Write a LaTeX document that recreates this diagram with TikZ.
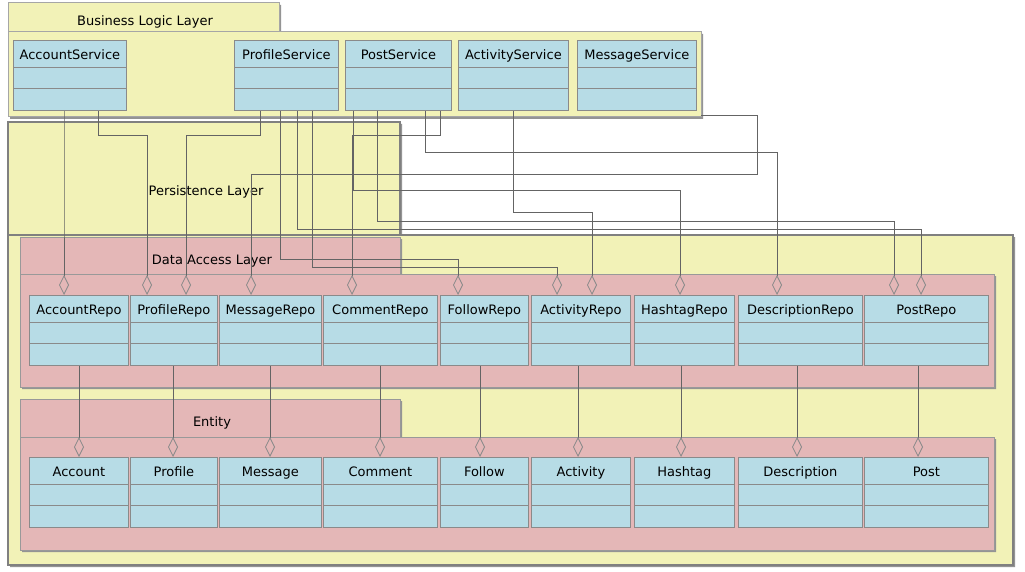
\documentclass[tikz,border=0pt]{standalone}
\usepackage{fontspec}
\setmainfont{DejaVu Sans}
\usepackage{tikz}
\usetikzlibrary{arrows.meta}

\definecolor{pkgyellow}{RGB}{242,242,183}
\definecolor{pkgpink}{RGB}{228,183,183}
\definecolor{classblue}{RGB}{183,220,230}
\definecolor{edgegray}{RGB}{138,138,138}
\definecolor{linegray}{RGB}{100,100,100}

% source, offset, height of the bend, target, offset
\newcommand\assoc[5]{%
  \coordinate (bend) at (0,#3);
  \draw[aggr] ([xshift=#2pt]#1.south west) coordinate (start) -- (start |- bend) -| ([xshift=#5pt]#4.north west);}

\begin{document}
\begin{tikzpicture}[x=1pt,y=-1pt,font=\fontsize{13}{15}\selectfont,
    pkg/.style={fill=pkgyellow,draw=black!35,line width=1pt},
    pkgshadow/.style={fill=black!42},
    umlclass/.style={draw=edgegray,fill=classblue,line width=0.8pt,anchor=north west,
        inner xsep=0pt,inner ysep=9pt,minimum height=70pt,text height=10pt,text depth=42pt,
        path picture={\draw[edgegray,line width=0.8pt]
            ([yshift=-27pt]path picture bounding box.north west) -- ([yshift=-27pt]path picture bounding box.north east)
            ([yshift=-48pt]path picture bounding box.north west) -- ([yshift=-48pt]path picture bounding box.north east);}},
    aggr/.style={draw=linegray,line width=0.8pt,-{Diamond[open,length=20pt,width=10pt,color=edgegray]}}]
    \fill[white] (0,0) rectangle (1025,572);
    \useasboundingbox (0,0) rectangle (1025,572);

    %Business Logic Layer
    \fill[pkgshadow] (10,5) rectangle (281,34) (10,34) rectangle (703,119);
    \draw[pkg] (8,3) rectangle (279,32);
    \draw[pkg] (8,32) rectangle (701,117) coordinate (blp);
    \node (bltitle) at (145,22) {Business Logic Layer};

    %Persistence Layer
    \fill[pkgshadow] (10,124) rectangle (402,237) (10,237) rectangle (1015,567);
    \draw[pkg,draw=black!50,line width=2.5pt] (8,122) rectangle (400,235);
    \draw[pkg,draw=black!50,line width=2.5pt] (8,235) rectangle (1013,565);
    \node (pltitle) at (206,192) {Persistence Layer};

    %Data Access Layer and Entity
    \foreach \y/\h in {237/274, 399/437}
    {
        \fill[pkgshadow] (22,\y+2) rectangle (402,\h+2) (22,\h+2) rectangle (996,\h+115);
        \draw[pkg,fill=pkgpink,draw=black!40] (20,\y) rectangle (400,\h);
        \draw[pkg,fill=pkgpink,draw=black!40] (20,\h) rectangle (994,\h+113);
    }
    \node (daltitle) at (212,261) {Data Access Layer};
    \node (enttitle) at (212,423) {Entity};

    %Services
    \foreach \n/\x/\w in {AccountService/13/113, ProfileService/234/104, PostService/345/106,
        ActivityService/458/110, MessageService/577/119}
        \node[umlclass,minimum width=\w pt] (\n) at (\x,40) {\n};

    %Repositories and entities
    \foreach \n/\x/\w/\d in {Account/29/99/50, Profile/130/87/43, Message/219/102/51,
        Comment/323/114/57, Follow/440/88/40, Activity/531/99/47, Hashtag/634/100/47,
        Description/738/124/59, Post/864/124/54}
    {
        \node[umlclass,minimum width=\w pt] (\n Repo) at (\x,295) {\n Repo};
        \node[umlclass,minimum width=\w pt] (\n) at (\x,457) {\n};
        \draw[aggr] ([xshift=\d pt]\n Repo.south west) -- ([xshift=\d pt]\n.north west);
    }

    %Services to repositories
    \assoc{AccountService}{51}{200}{AccountRepo}{35}
    \assoc{AccountService}{85}{135}{ProfileRepo}{17}
    \assoc{ProfileService}{26}{135}{ProfileRepo}{56}
    \assoc{ProfileService}{46}{259}{FollowRepo}{18}
    \assoc{ProfileService}{63}{229}{PostRepo}{57}
    \assoc{ProfileService}{78}{267}{ActivityRepo}{26}
    \assoc{PostService}{8}{190}{HashtagRepo}{46}
    \assoc{PostService}{32}{221}{PostRepo}{30}
    \assoc{PostService}{80}{152}{DescriptionRepo}{39}
    \assoc{PostService}{95}{135}{CommentRepo}{29}
    \assoc{ActivityService}{55}{212}{ActivityRepo}{61}
    \draw[aggr] ([yshift=2pt]blp) -| (757,174) -| ([xshift=32pt]MessageRepo.north west);
\end{tikzpicture}
\end{document}
